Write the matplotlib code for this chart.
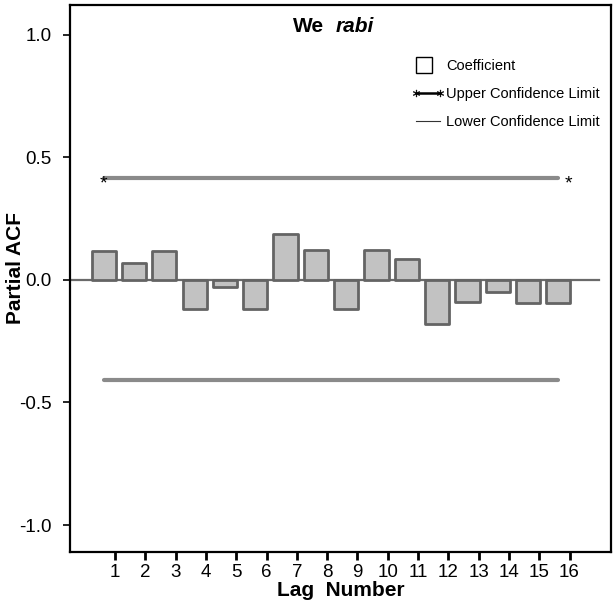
import numpy as np
import matplotlib.pyplot as plt
from matplotlib.lines import Line2D
from matplotlib.legend_handler import HandlerLine2D

plt.rcParams['font.family'] = ['Liberation Sans', 'DejaVu Sans']

lags = np.arange(1, 17)
pacf = [0.117, 0.07, 0.117, -0.12, -0.027, -0.12, 0.186, 0.121,
        -0.12, 0.124, 0.085, -0.178, -0.088, -0.05, -0.096, -0.096]
upper_limit = 0.417
lower_limit = -0.407
tick_labels = [str(k) for k in lags]

title_plain = "We"
title_italic = "rabi"


def main():
    fig = plt.figure(figsize=(6.16, 6.03), dpi=100)
    ax = fig.add_axes([0.1136, 0.0846, 0.8784, 0.9064])

    # bars sit a little left of their tick marks, as in the original
    xb = lags - 0.37

    ax.plot([-0.5, 16.98], [0, 0], color="#6a6a6a", lw=1.6, zorder=1)
    ax.bar(xb, pacf, width=0.8, color="#c2c2c2", edgecolor="#646464",
           linewidth=2, joinstyle="round", zorder=2)

    ax.plot([xb[0], xb[-1]], [upper_limit, upper_limit], color="#8a8a8a",
            lw=3, solid_capstyle="round", zorder=1)
    ax.plot([xb[0], xb[-1]], [lower_limit, lower_limit], color="#8a8a8a",
            lw=3, solid_capstyle="round", zorder=1)
    ax.annotate("*", (xb[0], upper_limit), xytext=(0, -4.5),
                textcoords="offset points", ha="center", va="center", fontsize=14)
    ax.annotate("*", (xb[-1], upper_limit), xytext=(7, -4.5),
                textcoords="offset points", ha="center", va="center", fontsize=14)

    ax.set_xlim(-0.485, 17.37)
    ax.set_ylim(-1.11, 1.12)
    ax.set_xticks(lags)
    ax.set_xticklabels(tick_labels)
    ax.set_yticks([-1.0, -0.5, 0.0, 0.5, 1.0])
    ax.set_yticklabels(["-1.0", "-0.5", "0.0", "0.5", "1.0"])
    ax.tick_params(axis="x", length=6, width=2, labelsize=13.5, pad=3)
    ax.tick_params(axis="y", length=5, width=1.2, labelsize=13.5, pad=8)
    for s in ax.spines.values():
        s.set_linewidth(1.6)

    ax.set_xlabel("Lag  Number", fontsize=15, fontweight="bold", labelpad=0)
    ax.set_ylabel("Partial ACF", fontsize=15, fontweight="bold")
    ax.yaxis.set_label_coords(-0.083, 0.52)

    ax.text(0.4695, 0.962, title_plain, transform=ax.transAxes, ha="right",
            va="center", fontsize=15, fontweight="bold")
    ax.text(0.4917, 0.962, title_italic, transform=ax.transAxes, ha="left",
            va="center", fontsize=15, fontweight="bold", style="italic")

    box = Line2D([], [], linestyle="none", marker="s", markersize=11,
                 markerfacecolor="white", markeredgecolor="black",
                 markeredgewidth=1)
    upper = Line2D([], [], color="black", lw=1.8, marker="$*$", markersize=5,
                   markeredgewidth=0.3)
    lower = Line2D([], [], color="#333333", lw=0.8)
    labels = ["Coefficient", "Upper Confidence Limit", "Lower Confidence Limit"]
    ax.legend([box, upper, lower], labels, loc="upper left",
              bbox_to_anchor=(0.632, 0.902), frameon=False, fontsize=10.5,
              handlelength=2.2, handletextpad=0.15, labelspacing=0.95,
              numpoints=2, borderaxespad=0, borderpad=0,
              handler_map={box: HandlerLine2D(numpoints=1, xpad=-0.6)})

    fig.savefig("out.png", dpi=100)


if __name__ == "__main__":
    main()
